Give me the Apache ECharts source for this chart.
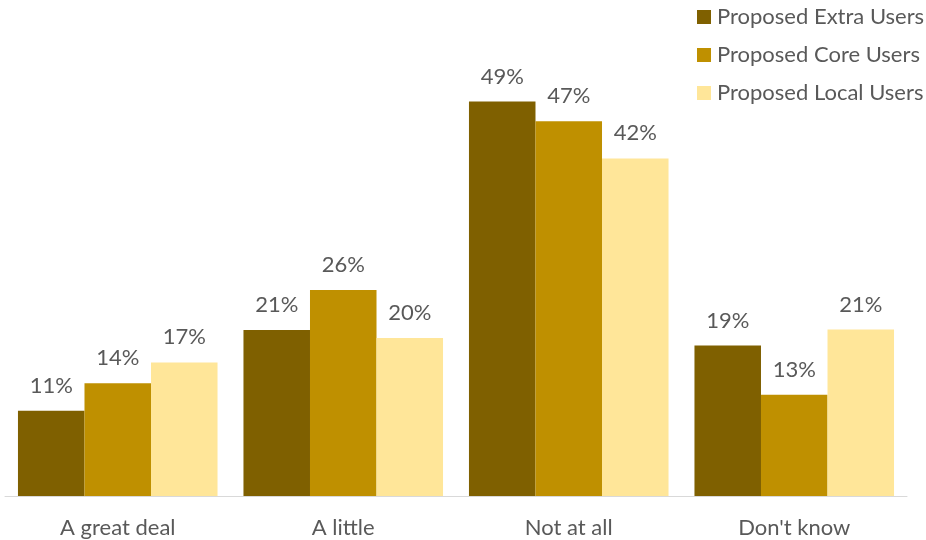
<!DOCTYPE html>
<html>
<head>
<meta charset="utf-8">
<script src="https://cdn.jsdelivr.net/npm/echarts@6/dist/echarts.min.js"></script>
<style>
html,body{margin:0;padding:0;background:#fff;}
#chart{width:926px;height:540px;}
</style>
</head>
<body>
<div id="chart"></div>
<script>
const categories = ["A great deal", "A little", "Not at all", "Don't know"];
const seriesNames = ["Proposed Extra Users", "Proposed Core Users", "Proposed Local Users"];
const extraUsers = [10.65, 20.75, 49.3, 18.8];
const coreUsers = [14.1, 25.75, 46.85, 12.65];
const localUsers = [16.7, 19.75, 42.2, 20.8];
const colors = ["#7F6000", "#BF9000", "#FFE699"];

const FONT = "Lato";
const TEXT = "#595959";

function mk(name, data, color) {
  return {
    name: name,
    type: "bar",
    data: data,
    itemStyle: { color: color },
    barGap: "0%",
    barCategoryGap: "11.5%",
    label: {
      show: true,
      position: "top",
      distance: 14,
      color: TEXT,
      fontFamily: FONT,
      fontSize: 22,
      formatter: p => Math.round(p.value) + "%"
    }
  };
}

const chart = echarts.init(document.getElementById("chart"), null, { renderer: "canvas" });
chart.setOption({
  animation: false,
  backgroundColor: "#ffffff",
  grid: { left: 5, right: 19, top: 16, bottom: 44, containLabel: false },
  legend: {
    orient: "vertical",
    left: 692,
    top: 1,
    itemWidth: 14,
    itemHeight: 14,
    itemGap: 16,
    icon: "rect",
    textStyle: { color: TEXT, fontFamily: FONT, fontSize: 22, padding: [0, 0, 0, 1] },
    data: seriesNames
  },
  xAxis: {
    type: "category",
    data: categories,
    axisLine: { lineStyle: { color: "#D9D9D9", width: 1 } },
    axisTick: { show: false },
    axisLabel: { color: TEXT, fontFamily: FONT, fontSize: 22, margin: 21 }
  },
  yAxis: {
    type: "value",
    min: 0,
    max: 60,
    show: false,
    splitLine: { show: false }
  },
  series: [
    mk(seriesNames[0], extraUsers, colors[0]),
    mk(seriesNames[1], coreUsers, colors[1]),
    mk(seriesNames[2], localUsers, colors[2])
  ]
});
</script>
</body>
</html>
